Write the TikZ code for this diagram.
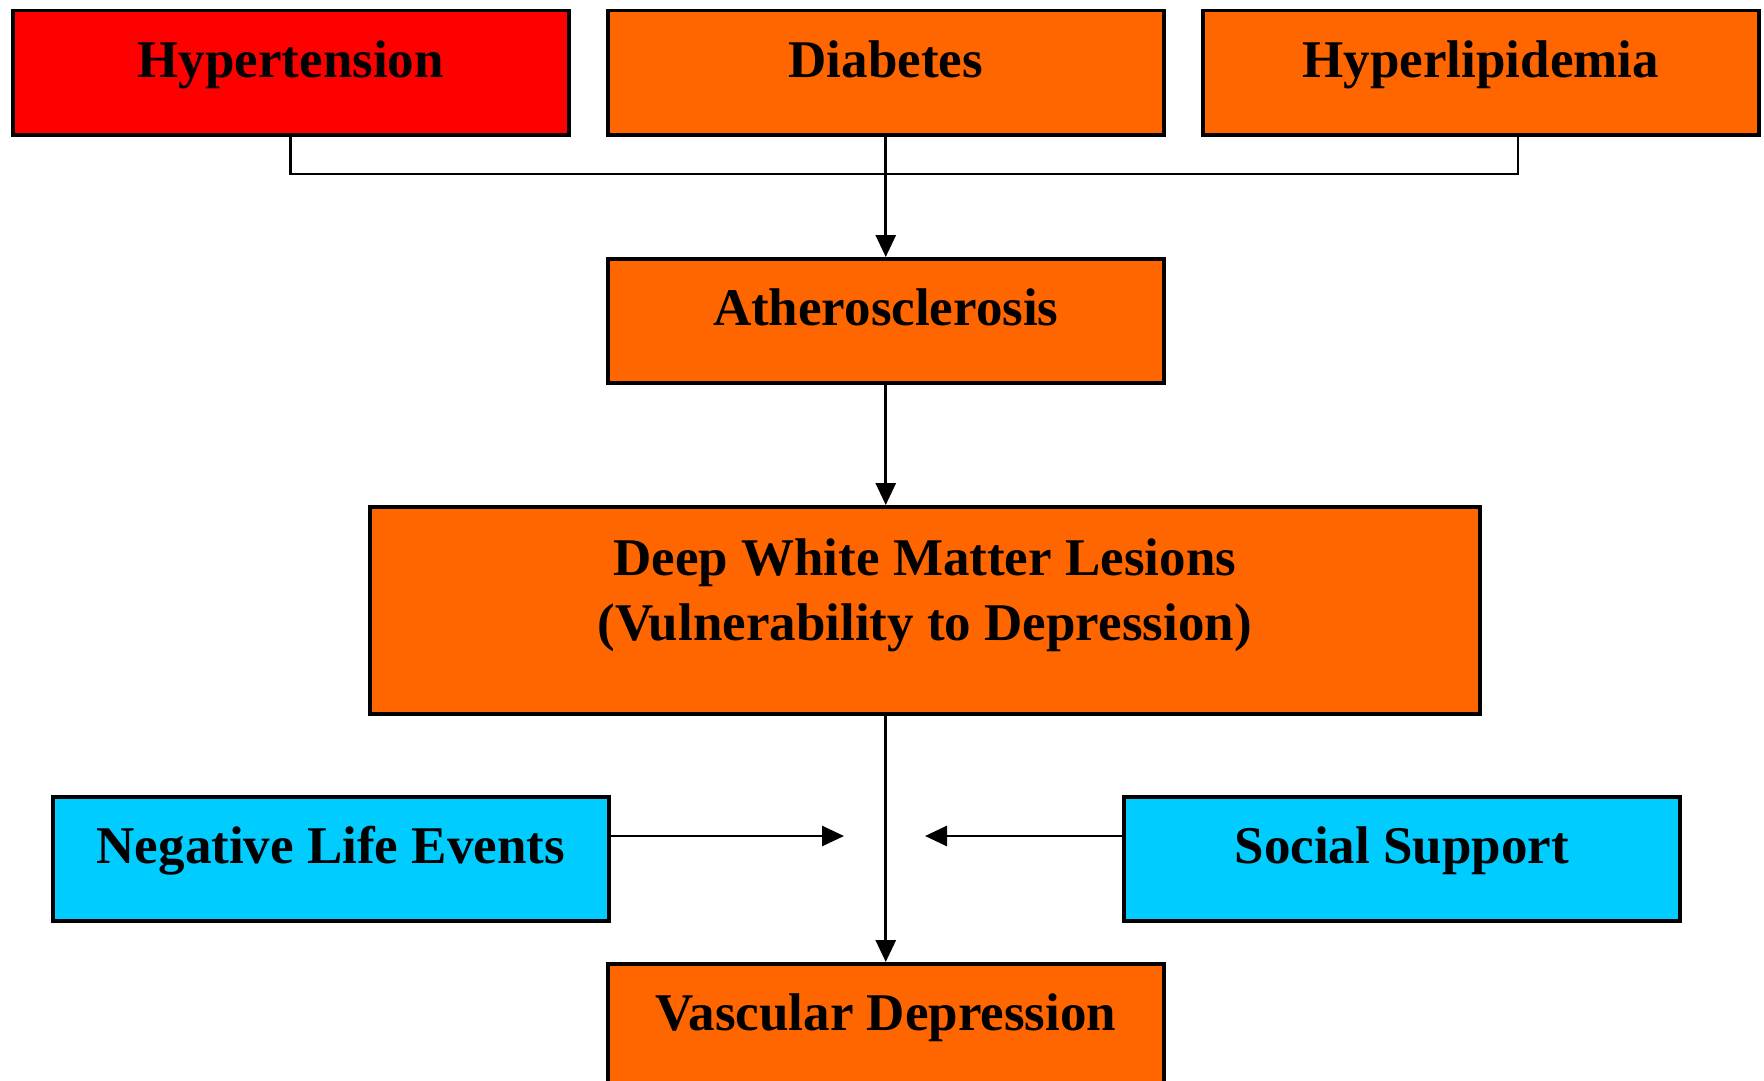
\documentclass[tikz,border=0pt]{standalone}
\usepackage{fontspec}
\setmainfont{Liberation Serif}
\usetikzlibrary{arrows.meta}
\definecolor{boxorange}{HTML}{FF6600}
\definecolor{boxred}{HTML}{FF0000}
\definecolor{boxcyan}{HTML}{00CCFF}
\begin{document}
\begin{tikzpicture}[x=1pt,y=-1pt,
  box/.style={draw=black, line width=3.5pt, anchor=north west, inner sep=0pt,
    minimum width=#1, text height=67pt, text depth=57pt,
    font=\fontsize{53}{65}\selectfont\bfseries},
  box/.default=556pt,
  link/.style={draw=black, line width=2.8pt},
  arrowlink/.style={link, -{Triangle[length=22pt,width=20pt]}}]
\useasboundingbox (0,0) rectangle (1764,1081);
\begin{scope}
\clip (0,0) rectangle (1764,1081);
% risk factors
\node[box, fill=boxred]    (hyp) at (11,9)   {Hypertension};
\node[box, fill=boxorange] (dia) at (606,9)  {Diabetes};
\node[box, fill=boxorange] (hlp) at (1201,9) {Hyperlipidemia};
% vascular pathway
\node[box, fill=boxorange] (ath) at (606,257) {Atherosclerosis};
\node[box=1110pt, fill=boxorange, text height=69pt, text depth=138pt] (dwm) at (368,505)
  {\begin{tabular}[t]{@{}c@{}}Deep White Matter Lesions\\(Vulnerability to Depression)\end{tabular}};
% modifiers
\node[box, fill=boxcyan] (neg) at (51,795)   {Negative Life Events};
\node[box, fill=boxcyan] (soc) at (1122,795) {Social Support};
% outcome
\node[box, fill=boxorange] (vas) at (606,962) {Vascular Depression};

% connectors
\coordinate (hlpx) at ([xshift=317pt]hlp.south west);
\coordinate (join) at (884,174);
\draw[link] (hyp.south) |- (join) -| (hlpx);
\draw[arrowlink] (dia.south) -- (ath.north);
\draw[arrowlink] (ath.south) -- (ath.south |- dwm.north);
\draw[arrowlink] (vas.north |- dwm.south) -- (vas.north);
\coordinate (negtip) at (844,836);
\coordinate (soctip) at (925,836);
\draw[arrowlink] (negtip -| neg.east) -- (negtip);
\draw[arrowlink] (soctip -| soc.west) -- (soctip);
\end{scope}
\end{tikzpicture}
\end{document}
